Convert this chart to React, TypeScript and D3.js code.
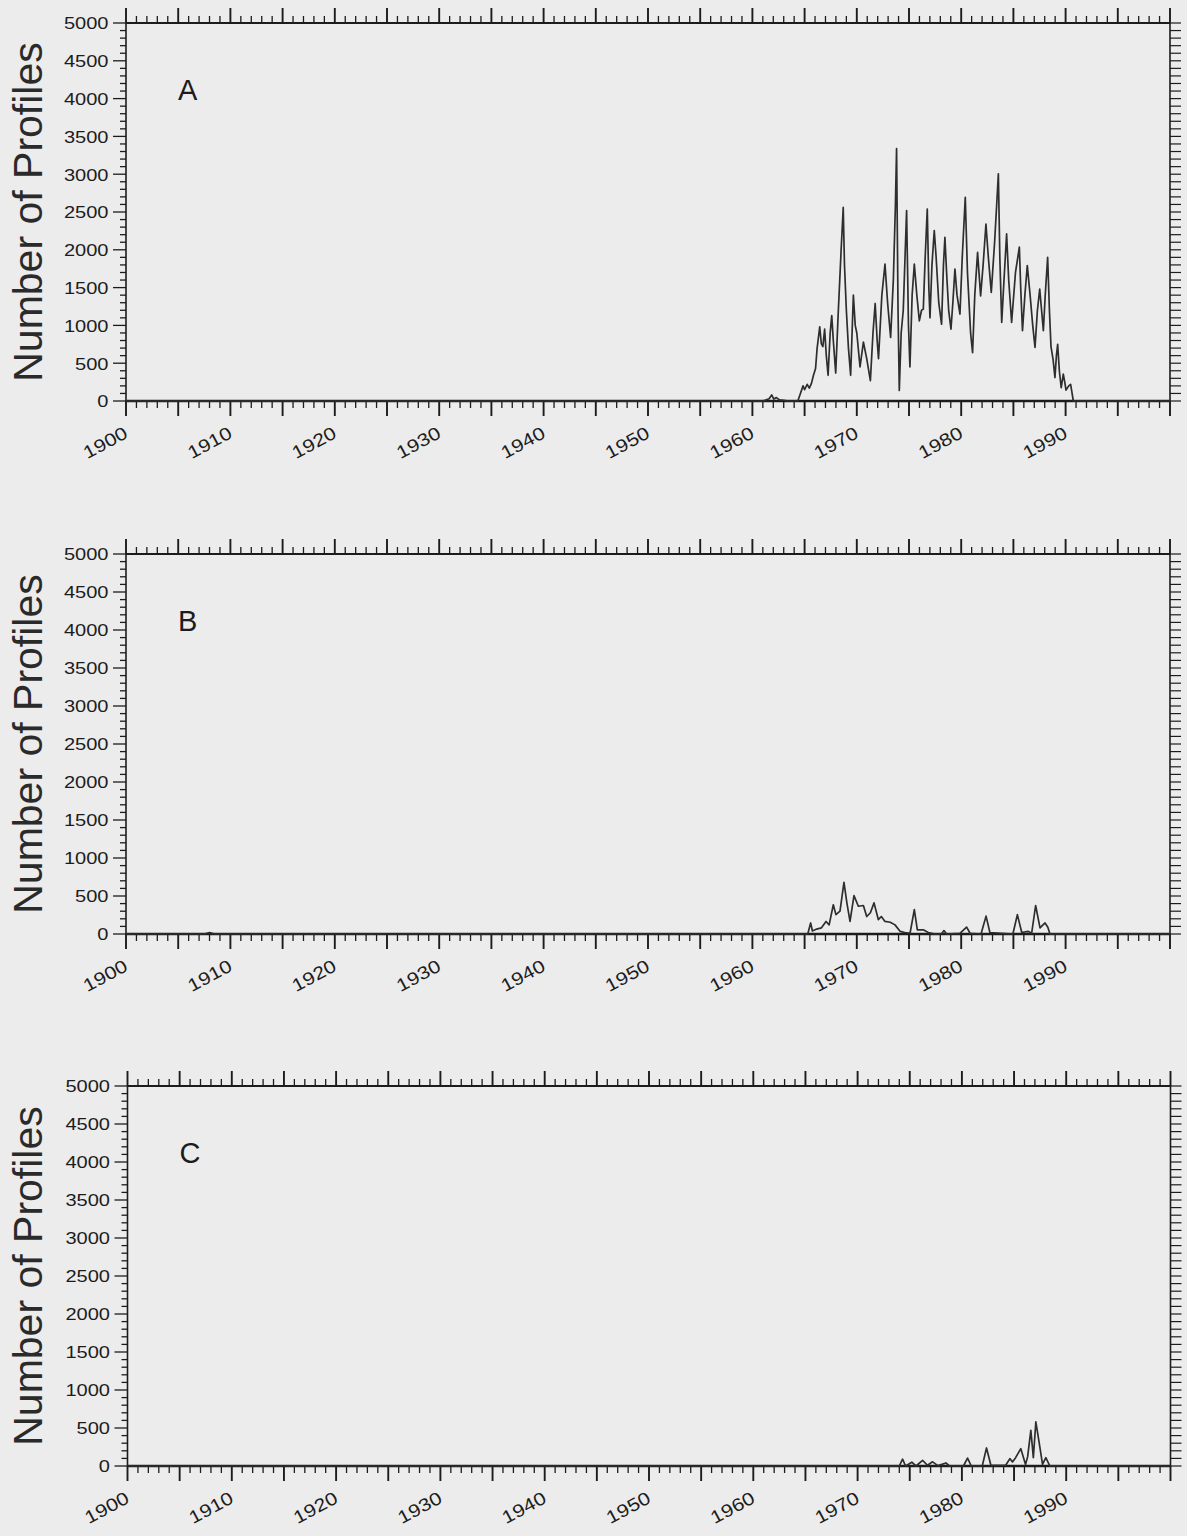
import React from 'react';
import * as d3 from 'd3';

const W = 1187;
const H = 1536;

// Axis values
const yearDomain = [1900, 2000];
const countDomain = [0, 5000];
const yearLabels = [1900, 1910, 1920, 1930, 1940, 1950, 1960, 1970, 1980, 1990];
const countLabels = [0, 500, 1000, 1500, 2000, 2500, 3000, 3500, 4000, 4500, 5000];

// Panel A: monthly profile counts
const yearsA = [
  1900, 1961.0, 1961.6, 1961.85, 1962.05, 1962.3, 1962.6, 1963.0, 1963.5, 1964.35,
  1964.6, 1964.85, 1965.0, 1965.25, 1965.45, 1965.65, 1965.85, 1966.05, 1966.2, 1966.45,
  1966.6, 1966.75, 1966.92, 1967.08, 1967.25, 1967.45, 1967.6, 1967.75, 1967.98, 1968.2,
  1968.5, 1968.7, 1968.82, 1969.0, 1969.2, 1969.41, 1969.67, 1969.85, 1970.0, 1970.31,
  1970.63, 1970.95, 1971.3, 1971.55, 1971.76, 1971.95, 1972.08, 1972.4, 1972.7, 1972.95,
  1973.24, 1973.5, 1973.7, 1973.81, 1973.95, 1974.07, 1974.25, 1974.45, 1974.77, 1974.95,
  1975.09, 1975.3, 1975.51, 1975.75, 1975.99, 1976.2, 1976.37, 1976.55, 1976.75, 1976.9,
  1977.01, 1977.2, 1977.42, 1977.6, 1977.85, 1978.12, 1978.3, 1978.44, 1978.6, 1978.8,
  1979.02, 1979.2, 1979.4, 1979.6, 1979.88, 1980.1, 1980.39, 1980.6, 1980.9, 1981.09,
  1981.3, 1981.57, 1981.86, 1982.1, 1982.37, 1982.6, 1982.88, 1983.2, 1983.4, 1983.56,
  1983.7, 1983.88, 1984.1, 1984.35, 1984.55, 1984.83, 1985.2, 1985.57, 1985.7, 1985.87,
  1986.1, 1986.33, 1986.6, 1986.85, 1987.07, 1987.3, 1987.52, 1987.7, 1987.87, 1988.05,
  1988.28, 1988.45, 1988.6, 1988.8, 1988.98, 1989.12, 1989.24, 1989.4, 1989.58, 1989.78,
  1989.92, 1990.04, 1990.3, 1990.48, 1990.6, 1990.74, 2000,
];
const profilesA = [
  0, 0, 30, 80, 25, 45, 15, 10, 0, 0,
  100, 200, 150, 220, 170, 230, 340, 430, 700, 980,
  760, 720, 950, 600, 340, 900, 1130, 800, 370, 1100,
  2000, 2560, 1800, 1200, 700, 340, 1400, 1000, 900, 450,
  780, 560, 270, 900, 1290, 800, 560, 1400, 1810, 1300,
  840, 1600, 2600, 3340, 1200, 140, 900, 1200, 2520, 1000,
  450, 1400, 1810, 1400, 1060, 1200, 1215, 1900, 2540, 1500,
  1100, 1800, 2255, 1900, 1300, 1015, 1800, 2165, 1700, 1200,
  950, 1300, 1745, 1400, 1150, 1900, 2695, 1700, 900, 640,
  1400, 1965, 1390, 1800, 2340, 1900, 1435, 2100, 2600, 3005,
  1900, 1040, 1600, 2210, 1600, 1040, 1700, 2035, 1500, 930,
  1400, 1790, 1400, 1000, 710, 1200, 1480, 1200, 930, 1400,
  1900, 1200, 720, 550, 310, 600, 750, 400, 175, 355,
  250, 145, 200, 220, 120, 0, 0,
];

// Panel B
const yearsB = [
  1900, 1907.5, 1908.0, 1908.5, 1965.3, 1965.58, 1965.75, 1966.16, 1966.6, 1967.05,
  1967.35, 1967.75, 1968.0, 1968.39, 1968.77, 1969.05, 1969.35, 1969.73, 1970.15, 1970.63,
  1970.95, 1971.3, 1971.65, 1972.06, 1972.35, 1972.7, 1973.2, 1973.66, 1974.14, 1974.6,
  1975.1, 1975.51, 1975.8, 1976.37, 1976.85, 1977.49, 1978.1, 1978.35, 1978.6, 1979.9,
  1980.52, 1980.85, 1981.9, 1982.38, 1982.75, 1984.95, 1985.38, 1985.8, 1986.4, 1986.75,
  1987.13, 1987.55, 1988.03, 1988.3, 1988.5, 2000,
];
const profilesB = [
  0, 0, 20, 0, 0, 145, 40, 65, 80, 165,
  120, 385, 255, 300, 680, 410, 165, 505, 365, 375,
  230, 280, 410, 190, 230, 165, 155, 120, 35, 20,
  10, 320, 55, 55, 20, 0, 0, 45, 0, 10,
  90, 10, 0, 235, 20, 0, 255, 20, 35, 10,
  375, 80, 145, 90, 0, 0,
];

// Panel C
const yearsC = [
  1900, 1974.0, 1974.31, 1974.6, 1975.2, 1975.6, 1976.23, 1976.7, 1977.19, 1977.7,
  1978.47, 1978.8, 1980.15, 1980.54, 1980.9, 1981.95, 1982.36, 1982.78, 1984.2, 1984.6,
  1984.85, 1985.15, 1985.65, 1986.1, 1986.3, 1986.61, 1986.85, 1987.09, 1987.4, 1987.73,
  1988.05, 1988.43, 2000,
];
const profilesC = [
  0, 0, 90, 0, 50, 0, 75, 10, 55, 5,
  40, 0, 0, 105, 0, 0, 237, 10, 10, 97,
  53, 110, 228, 20, 120, 470, 110, 580, 315, 20,
  110, 0, 0,
];

type Frame = { left: number; right: number; top: number; bottom: number };

const BG = '#ececec';
const INK = '#1c1c1c';
const FONT = "'Liberation Sans', Arial, Helvetica, sans-serif";

function Panel({ frame, letter, years, values }: { frame: Frame; letter: string; years: number[]; values: number[] }) {
  const x = d3.scaleLinear().domain(yearDomain).range([frame.left, frame.right]);
  const y = d3.scaleLinear().domain(countDomain).range([frame.bottom, frame.top]);
  const line = d3
    .line<number>()
    .x((_, i) => x(years[i]))
    .y((d) => y(d));

  const yearTicks = d3.range(yearDomain[0], yearDomain[1] + 1, 1);
  const countTicks = d3.range(countDomain[0], countDomain[1] + 1, 100);

  return (
    <g>
      {/* frame */}
      <line x1={frame.left} x2={frame.right} y1={frame.top} y2={frame.top} stroke={INK} strokeWidth={2} />
      <line x1={frame.left} x2={frame.right} y1={frame.bottom} y2={frame.bottom} stroke={INK} strokeWidth={2.4} />
      <line x1={frame.left} x2={frame.left} y1={frame.top} y2={frame.bottom + 1} stroke={INK} strokeWidth={1.6} />
      <line x1={frame.right} x2={frame.right} y1={frame.top} y2={frame.bottom + 1} stroke={INK} strokeWidth={1.6} />

      {/* year ticks, bottom (down) and top (up) */}
      {yearTicks.map((yr) => {
        const major = yr % 5 === 0;
        const len = major ? 15 : 7;
        const xx = x(yr);
        return (
          <g key={`yt${yr}`}>
            <line x1={xx} x2={xx} y1={frame.bottom} y2={frame.bottom + len} stroke={INK} strokeWidth={major ? 1.9 : 1.3} />
            <line x1={xx} x2={xx} y1={frame.top} y2={frame.top - len} stroke={INK} strokeWidth={major ? 1.9 : 1.3} />
          </g>
        );
      })}

      {/* count ticks, left (out) and right (out) */}
      {countTicks.map((c) => {
        const major = c % 500 === 0;
        const yy = y(c);
        return (
          <g key={`ct${c}`}>
            <line x1={frame.left} x2={frame.left - (major ? 13 : 6)} y1={yy} y2={yy} stroke={INK} strokeWidth={1.3} />
            <line x1={frame.right} x2={frame.right + 11} y1={yy} y2={yy} stroke={INK} strokeWidth={1.2} />
          </g>
        );
      })}

      {/* count labels */}
      {countLabels.map((c) => (
        <text
          key={`cl${c}`}
          transform={`translate(${frame.left - 17.5},${y(c) + 6.3}) scale(1.18,1)`}
          textAnchor="end"
          fontFamily={FONT}
          fontSize={17}
          fill={INK}
        >
          {c}
        </text>
      ))}

      {/* year labels */}
      {yearLabels.map((yr) => (
        <text
          key={`yl${yr}`}
          transform={`translate(${x(yr) + 3},${frame.bottom + 36}) rotate(-28) scale(1.18,1)`}
          textAnchor="end"
          fontFamily={FONT}
          fontSize={18}
          fill={INK}
        >
          {yr}
        </text>
      ))}

      {/* axis title */}
      <text
        transform={`translate(42,${(frame.top + frame.bottom) / 2}) rotate(-90)`}
        textAnchor="middle"
        fontFamily={FONT}
        fontSize={41}
        fill="#2a2a2a"
      >
        Number of Profiles
      </text>

      {/* panel letter */}
      <text x={frame.left + 52} y={frame.top + 77} fontFamily={FONT} fontSize={29} fill={INK}>
        {letter}
      </text>

      {/* series */}
      <path d={line(values) ?? ''} fill="none" stroke="#2e2e2e" strokeWidth={1.7} strokeLinejoin="round" />
    </g>
  );
}

export default function App() {
  const frames: Frame[] = [
    { left: 126, right: 1170, top: 23, bottom: 401 },
    { left: 126, right: 1170, top: 554, bottom: 934 },
    { left: 127.5, right: 1170.5, top: 1086, bottom: 1466 },
  ];
  return (
    <svg
      width={W}
      height={H}
      viewBox={`0 0 ${W} ${H}`}
      style={{ position: 'absolute', left: 0, top: 0, display: 'block' }}
    >
      <rect x={0} y={0} width={W} height={H} fill={BG} />
      <Panel frame={frames[0]} letter="A" years={yearsA} values={profilesA} />
      <Panel frame={frames[1]} letter="B" years={yearsB} values={profilesB} />
      <Panel frame={frames[2]} letter="C" years={yearsC} values={profilesC} />
    </svg>
  );
}
